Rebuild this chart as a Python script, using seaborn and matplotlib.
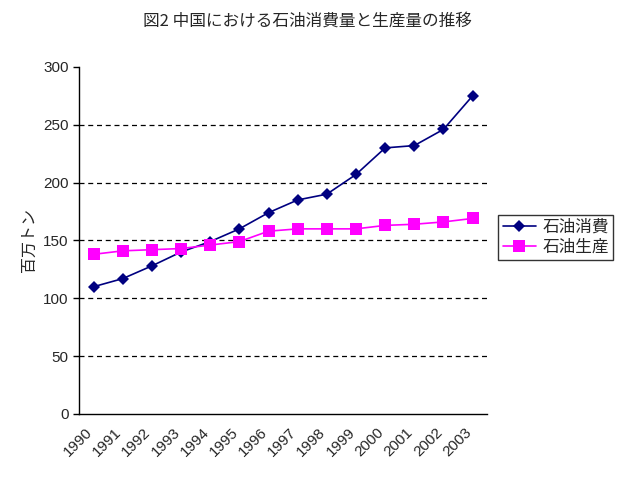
import pandas as pd
import seaborn as sns
import matplotlib.pyplot as plt
from matplotlib.ticker import FixedLocator
from matplotlib.transforms import ScaledTranslation

years = ["1990", "1991", "1992", "1993", "1994", "1995", "1996",
         "1997", "1998", "1999", "2000", "2001", "2002", "2003"]
consumption = [110, 117, 128, 140, 149, 160, 174, 185, 190, 207, 230, 232, 246, 275]
production = [138, 141, 142, 143, 146, 149, 158, 160, 160, 160, 163, 164, 166, 169]
series_names = ["石油消費", "石油生産"]

# long-form table for seaborn
df = pd.DataFrame({
    "x": list(range(len(years))) * 2,
    "value": consumption + production,
    "series": [series_names[0]] * len(years) + [series_names[1]] * len(years),
})

sns.set_style("white")
plt.rcParams["font.family"] = ["Liberation Sans", "Noto Sans CJK JP"]
jp = ["Noto Sans CJK JP", "DejaVu Sans"]

fig = plt.figure(figsize=(6.27, 4.78), dpi=100)
ax = fig.add_axes([0.126, 0.134, 0.651, 0.726])

palette = {series_names[0]: "#000080", series_names[1]: "#FF00FF"}
sns.lineplot(data=df, x="x", y="value", hue="series", style="series",
             palette=palette, markers={series_names[0]: "D", series_names[1]: "s"},
             dashes=False, markersize=7, linewidth=1.2, markeredgewidth=0,
             ax=ax)

# bigger square markers for production line
for line in ax.get_lines():
    if line.get_marker() == "s":
        line.set_markersize(8.5)
    elif line.get_marker() == "D":
        line.set_markersize(6.5)

ax.set_xlim(-0.5, len(years) - 0.5)
ax.set_ylim(0, 300)
ax.set_yticks(range(0, 301, 50))
for y in range(50, 300, 50):
    ax.axhline(y, color="black", linestyle=(0, (4, 3)), linewidth=0.9, zorder=0)

ax.set_xticks(range(len(years)))
ax.xaxis.set_minor_locator(FixedLocator([i - 0.5 for i in range(len(years) + 1)]))
ax.tick_params(axis="x", which="major", length=0, pad=8)
ax.tick_params(axis="x", which="minor", direction="in", length=5, width=1, color="black")
ax.tick_params(axis="y", direction="out", length=4, width=1, color="black", labelsize=11)
ax.yaxis.set_ticks_position("left")

# labels set after tick_params, otherwise the pad change resets the shift
ax.set_xticklabels(years, rotation=45, ha="right", rotation_mode="anchor", fontsize=11)
shift = ScaledTranslation(-6 / 72, 0, fig.dpi_scale_trans)
for lab in ax.get_xticklabels():
    lab.set_transform(lab.get_transform() + shift)

for side in ["top", "right"]:
    ax.spines[side].set_visible(False)
for side in ["left", "bottom"]:
    ax.spines[side].set_color("black")
    ax.spines[side].set_linewidth(1.0)

ax.set_xlabel("")
ax.set_ylabel("百万トン", family=jp, fontsize=11.5, labelpad=4)

leg = ax.legend(loc="center left", bbox_to_anchor=(0.795, 0.504), bbox_transform=fig.transFigure,
                frameon=True, fancybox=False, edgecolor="black", prop={"family": jp, "size": 12},
                handlelength=2.0, borderpad=0.25, labelspacing=0.15, handletextpad=0.4,
                borderaxespad=0)
leg.get_frame().set_linewidth(1.0)

fig.text(0.49, 0.955, "図2 中国における石油消費量と生産量の推移", family=jp,
         fontsize=12, ha="center", va="center")

fig.savefig("out.png", dpi=100)
